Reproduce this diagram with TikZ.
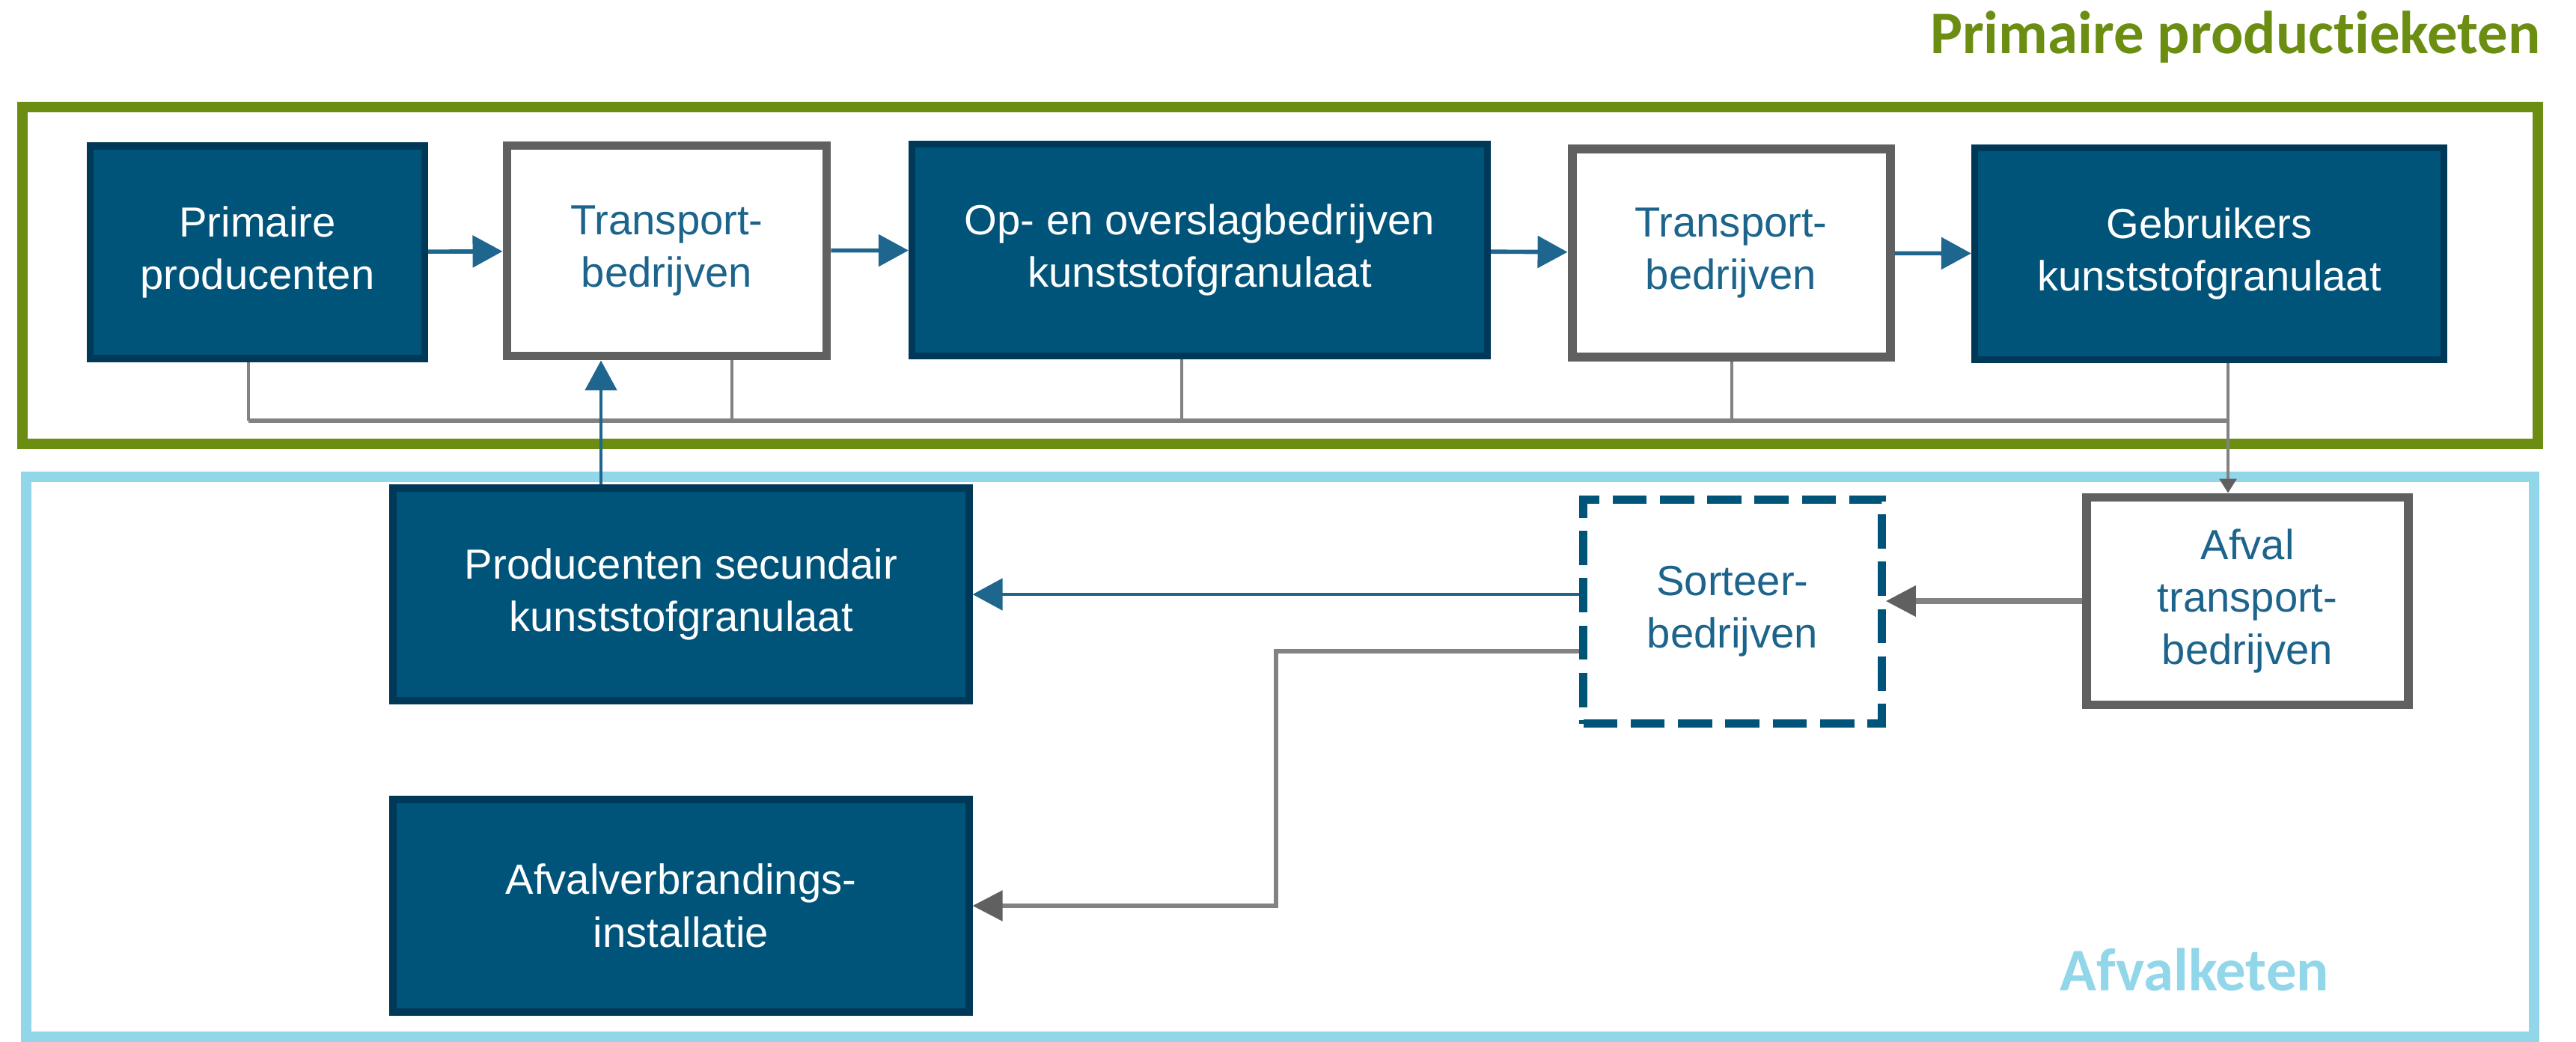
\documentclass[tikz,border=0pt]{standalone}
\usepackage{fontspec}
\setmainfont{Liberation Sans}
\newfontfamily\kopfont[Ligatures={NoCommon}]{Carlito}
\usetikzlibrary{arrows.meta}
\definecolor{groen}{RGB}{107,142,18}
\definecolor{lichtblauw}{RGB}{146,214,234}
\definecolor{donkerblauw}{RGB}{0,84,122}
\definecolor{randblauw}{RGB}{0,56,88}
\definecolor{pijlblauw}{RGB}{30,102,142}
\definecolor{tekstblauw}{RGB}{28,100,140}
\definecolor{randgrijs}{RGB}{96,96,96}
\definecolor{lijngrijs}{RGB}{130,130,130}
\begin{document}
\begin{tikzpicture}
[x=1cm, y=-1cm,
blok/.style={draw=randblauw, line width=2.6pt, fill=donkerblauw, text=white, align=center, inner sep=0pt, font=\fontsize{16}{20}\selectfont},
grijsblok/.style={draw=randgrijs, line width=3.4pt, fill=white, text=tekstblauw, align=center, inner sep=0pt, font=\fontsize{16}{20}\selectfont},
sorteerblok/.style={draw=donkerblauw, line width=3pt, dash pattern=on 13pt off 5pt, fill=white, text=tekstblauw, align=center, inner sep=0pt, font=\fontsize{16}{20}\selectfont},
pijl/.style={draw=pijlblauw, line width=1.6pt, -{Triangle[length=0.4cm, width=0.42cm]}},
grijspijl/.style={draw=lijngrijs, line width=1.6pt, -{Triangle[length=0.4cm, width=0.4cm, color=randgrijs]}},
stomp/.style={draw=lijngrijs, line width=0.9pt},
kop/.style={font=\kopfont\bfseries\fontsize{23}{28}\selectfont}]
\useasboundingbox (0,0) rectangle (34.42,13.92);
\draw [lichtblauw, line width=4pt] (0.35,6.37) rectangle (33.86,13.85);
\draw [groen, line width=4.2pt] (0.30,1.43) rectangle (33.91,5.93);
\node [kop, text=groen, anchor=base east] (titel) at (34.07,0.72) {Primaire productieketen};
\node [kop, text=lichtblauw, anchor=base] (afvalketen) at (29.32,13.23) {Afvalketen};
\node [blok, minimum width=4.47cm, minimum height=2.84cm] (prim) at (3.44,3.37) {Primaire\\producenten};
\node [grijsblok, minimum width=4.27cm, minimum height=2.81cm] (trans1) at (8.91,3.35) {Transport-\\bedrijven};
\node [blok, minimum width=7.69cm, minimum height=2.83cm] (opslag) at (16.03,3.34) {Op- en overslagbedrijven\\kunststofgranulaat};
\node [grijsblok, minimum width=4.25cm, minimum height=2.78cm] (trans2) at (23.13,3.38) {Transport-\\bedrijven};
\node [blok, minimum width=6.27cm, minimum height=2.83cm] (gebr) at (29.52,3.39) {Gebruikers\\kunststofgranulaat};
\node [blok, minimum width=7.70cm, minimum height=2.84cm] (prodsec) at (9.10,7.94) {Producenten secundair\\kunststofgranulaat};
\node [blok, minimum width=7.70cm, minimum height=2.84cm] (verbr) at (9.10,12.10) {Afvalverbrandings-\\installatie};
\node [sorteerblok, minimum width=3.99cm, minimum height=2.99cm] (sorteer) at (23.15,8.17) {Sorteer-\\bedrijven};
\node [grijsblok, minimum width=4.30cm, minimum height=2.77cm] (afvtr) at (30.03,8.03) {Afval\\transport-\\bedrijven};
\coordinate (b1) at (3.32,5.62);
\coordinate (b2) at (9.78,5.62);
\coordinate (b3) at (15.79,5.62);
\coordinate (b4) at (23.14,5.62);
\coordinate (b5) at (29.77,5.62);
\coordinate (omhoog) at (8.03,6.00);
\coordinate (knik) at (17.05,8.70);
\draw [stomp, line width=1.5pt] (b1) -- (b5);
\draw [stomp] (prim.south -| b1) -- (b1);
\draw [stomp] (trans1.south -| b2) -- (b2);
\draw [stomp] (opslag.south -| b3) -- (b3);
\draw [stomp] (trans2.south -| b4) -- (b4);
\draw [stomp, -{Triangle[length=0.19cm, width=0.23cm, color=randgrijs]}] (gebr.south -| b5) -- (afvtr.north -| b5);
\draw [pijl] (prim) -- (trans1);
\draw [pijl] (trans1) -- (opslag);
\draw [pijl] (opslag) -- (trans2);
\draw [pijl] (trans2) -- (gebr);
\draw [pijl, line width=1.4pt] (prodsec.north -| omhoog) -- (trans1.south -| omhoog);
\draw [grijspijl, line width=2pt] (afvtr.west) -- (afvtr.west -| sorteer.east);
\draw [pijl, line width=1.4pt] (sorteer.west |- prodsec.east) -- (prodsec.east);
\draw [grijspijl] (sorteer.west |- knik) -- (knik) |- (verbr.east);
\end{tikzpicture}
\end{document}
